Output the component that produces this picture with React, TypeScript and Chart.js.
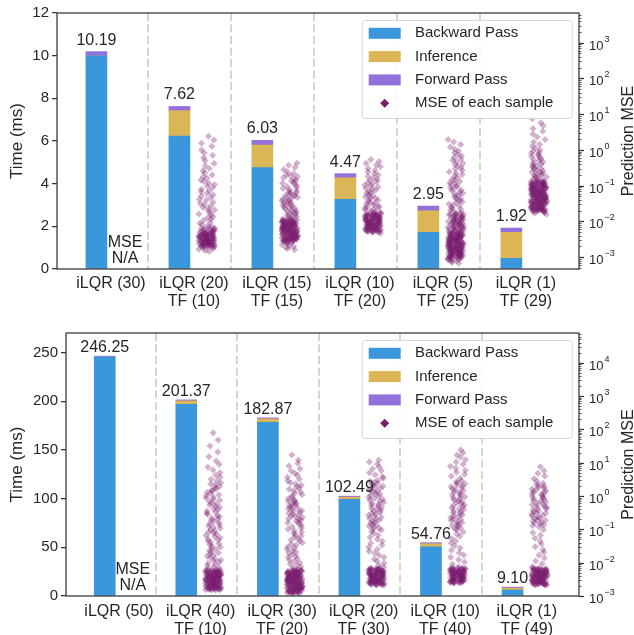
import React, { useEffect, useRef } from 'react';
import { Chart, registerables } from 'chart.js';

Chart.register(...registerables);

const FONT = '"Liberation Sans", Arial, "DejaVu Sans", sans-serif';
const TEXT = '#262626';
const BLUE = '#3a97dc';
const YELLOW = '#dbb656';
const PURPLE = '#9370db';
const MSE_RGB = '122,30,110';

// ---------------- top panel data ----------------
const TOP_LABELS = [['iLQR (30)'], ['iLQR (20)', 'TF (10)'], ['iLQR (15)', 'TF (15)'], ['iLQR (10)', 'TF (20)'], ['iLQR (5)', 'TF (25)'], ['iLQR (1)', 'TF (29)']];
const TOP_BACKWARD = [9.99, 6.23, 4.75, 3.27, 1.72, 0.5];
const TOP_INFERENCE = [0, 1.19, 1.06, 1.01, 1.01, 1.22];
const TOP_FORWARD = [0.2, 0.2, 0.22, 0.19, 0.22, 0.2];
const TOP_TOTALS = ['10.19', '7.62', '6.03', '4.47', '2.95', '1.92'];

// log10 of per-sample prediction MSE
const TOP_MSE_TF10 = [
  -2.84, -2.81, -2.78, -2.76, -2.74,
  -2.72, -2.71, -2.7, -2.7, -2.69, -2.69, -2.68, -2.68, -2.67, -2.67, -2.66, -2.66, -2.65, -2.65, -2.64, -2.64, -2.63, -2.63, -2.62, -2.62, -2.61, -2.61, -2.6, -2.6, -2.59, -2.59, -2.58, -2.58, -2.57, -2.57, -2.56, -2.56, -2.55, -2.55, -2.54, -2.54, -2.53, -2.53, -2.52, -2.52, -2.51, -2.51, -2.5, -2.5, -2.49, -2.49, -2.48, -2.48, -2.47, -2.47, -2.46, -2.46, -2.45, -2.45, -2.44, -2.44, -2.43, -2.43, -2.42, -2.42, -2.41, -2.41, -2.4, -2.4, -2.39, -2.39, -2.38, -2.38, -2.37, -2.37, -2.36, -2.36, -2.35, -2.35, -2.34, -2.34, -2.33, -2.33, -2.32, -2.32, -2.31, -2.3, -2.29, -2.28, -2.27, -2.26, -2.25, -2.24, -2.23, -2.22, -2.21, -2.2, -2.19, -2.17, -2.15,
  -2.12, -2.09, -2.05, -2.02, -1.97, -1.94, -1.9, -1.87, -1.83, -1.79, -1.76, -1.71, -1.68, -1.64, -1.61, -1.57, -1.53, -1.5, -1.46, -1.41, -1.38, -1.34, -1.29, -1.26, -1.22, -1.17, -1.14, -1.1, -1.05, -1.01, -0.97, -0.93, -0.88, -0.84, -0.79, -0.75, -0.7, -0.64, -0.58, -0.52, -0.45, -0.38, -0.3, -0.22, -0.15, -0.08, 0.0, 0.1, 0.19, 0.28, 0.38,
];
const TOP_MSE_TF15 = [
  -2.79, -2.76, -2.73, -2.7, -2.67, -2.65,
  -2.62, -2.6, -2.58, -2.57, -2.56, -2.55, -2.55, -2.54, -2.54, -2.53, -2.53, -2.52, -2.52, -2.51, -2.51, -2.5, -2.5, -2.49, -2.49, -2.48, -2.48, -2.47, -2.47, -2.46, -2.46, -2.45, -2.45, -2.44, -2.44, -2.43, -2.43, -2.42, -2.42, -2.41, -2.41, -2.4, -2.4, -2.39, -2.39, -2.38, -2.38, -2.37, -2.37, -2.36, -2.36, -2.35, -2.35, -2.34, -2.34, -2.33, -2.33, -2.32, -2.32, -2.31, -2.31, -2.3, -2.3, -2.29, -2.29, -2.28, -2.28, -2.27, -2.27, -2.26, -2.26, -2.25, -2.25, -2.24, -2.24, -2.23, -2.23, -2.22, -2.22, -2.21, -2.21, -2.2, -2.2, -2.19, -2.19, -2.18, -2.18, -2.17, -2.17, -2.16, -2.16, -2.15, -2.15, -2.14, -2.14, -2.13, -2.13, -2.12, -2.12, -2.11, -2.11, -2.1, -2.1, -2.09, -2.09, -2.08, -2.08, -2.07, -2.07, -2.06, -2.06, -2.05, -2.05, -2.04, -2.04, -2.03, -2.03, -2.02, -2.02, -2.01, -2.01, -2.0, -2.0, -1.99, -1.99, -1.98, -1.98, -1.97, -1.97, -1.96, -1.96, -1.95, -1.95, -1.93, -1.91, -1.89, -1.87, -1.85, -1.83,
  -1.8, -1.79, -1.77, -1.74, -1.72, -1.71, -1.68, -1.65, -1.64, -1.62, -1.59, -1.57, -1.56, -1.53, -1.5, -1.49, -1.47, -1.44, -1.42, -1.41, -1.38, -1.35, -1.34, -1.32, -1.29, -1.27, -1.26, -1.23, -1.2, -1.19, -1.17, -1.14, -1.11, -1.08, -1.05, -1.02, -0.99, -0.95, -0.93, -0.9, -0.87, -0.84, -0.81, -0.78, -0.74, -0.72, -0.7, -0.66, -0.61, -0.55, -0.49, -0.43, -0.37,
];
const TOP_MSE_TF20 = [
  -2.33, -2.31, -2.3, -2.29,
  -2.28, -2.28, -2.27, -2.27, -2.26, -2.26, -2.25, -2.25, -2.24, -2.24, -2.23, -2.23, -2.22, -2.22, -2.21, -2.21, -2.2, -2.2, -2.19, -2.19, -2.18, -2.18, -2.17, -2.17, -2.16, -2.16, -2.15, -2.15, -2.14, -2.14, -2.13, -2.13, -2.12, -2.12, -2.11, -2.11, -2.1, -2.1, -2.09, -2.09, -2.08, -2.08, -2.07, -2.07, -2.06, -2.06, -2.05, -2.05, -2.04, -2.04, -2.03, -2.03, -2.02, -2.02, -2.01, -2.01, -2.0, -2.0, -1.99, -1.99, -1.98, -1.98, -1.97, -1.97, -1.96, -1.96, -1.95, -1.95, -1.94, -1.94, -1.93, -1.93, -1.92, -1.92, -1.91, -1.91, -1.9, -1.9, -1.89, -1.89, -1.88, -1.88, -1.87, -1.87, -1.86, -1.86, -1.85, -1.85, -1.84, -1.84, -1.83, -1.83, -1.82, -1.82, -1.81, -1.81, -1.8, -1.8, -1.79, -1.79, -1.78, -1.78,
  -1.76, -1.74, -1.72, -1.7, -1.68, -1.66, -1.63, -1.61, -1.59, -1.57, -1.54, -1.52, -1.49, -1.47, -1.44, -1.41, -1.39, -1.36, -1.33, -1.31, -1.28, -1.25, -1.22, -1.19, -1.16, -1.13, -1.1, -1.07, -1.04, -1.01, -0.98, -0.95, -0.92, -0.89, -0.85, -0.82, -0.78, -0.74, -0.7, -0.66, -0.61, -0.57, -0.52, -0.47, -0.42, -0.37, -0.32, -0.27,
];
const TOP_MSE_TF25 = [
  -3.17, -3.14, -3.12, -3.1,
  -3.08, -3.07, -3.06, -3.05, -3.04, -3.03, -3.02, -3.01,
  -3.0, -3.0, -2.99, -2.99, -2.98, -2.98, -2.97, -2.97, -2.96, -2.96, -2.95, -2.95, -2.94, -2.94, -2.93, -2.93, -2.92, -2.92, -2.91, -2.91, -2.9, -2.9, -2.89, -2.89, -2.88, -2.88, -2.87, -2.87, -2.86, -2.86, -2.85, -2.85, -2.84, -2.84, -2.83, -2.83, -2.82, -2.82, -2.81, -2.81, -2.8, -2.8, -2.79, -2.79, -2.78, -2.78, -2.77, -2.77, -2.76, -2.76, -2.75, -2.75, -2.74, -2.74, -2.73, -2.73, -2.72, -2.72, -2.71, -2.71, -2.7, -2.7, -2.69, -2.69, -2.68, -2.68, -2.67, -2.67, -2.66, -2.66, -2.65, -2.65, -2.64, -2.64, -2.63, -2.63, -2.62, -2.62, -2.61, -2.61, -2.6, -2.6, -2.59, -2.59, -2.58, -2.58, -2.57, -2.57, -2.56, -2.56, -2.55, -2.55, -2.54, -2.54, -2.53, -2.53, -2.52, -2.52, -2.51, -2.51, -2.5, -2.5, -2.49, -2.49, -2.48, -2.48, -2.47, -2.47, -2.46, -2.46, -2.45, -2.45, -2.44, -2.44, -2.43, -2.43, -2.42, -2.42, -2.41, -2.41, -2.4, -2.4, -2.39, -2.39, -2.38, -2.38, -2.37, -2.37, -2.36, -2.36, -2.35, -2.35, -2.34, -2.34, -2.33, -2.33,
  -2.32, -2.31, -2.3, -2.29, -2.28, -2.27, -2.26, -2.25, -2.24, -2.23, -2.22, -2.21, -2.2, -2.19, -2.18, -2.17, -2.16, -2.15, -2.14, -2.13, -2.12, -2.11, -2.1, -2.09, -2.08, -2.07, -2.06, -2.05, -2.04, -2.03, -2.02, -2.01, -2.0, -1.99, -1.98, -1.97, -1.96, -1.95, -1.94, -1.93, -1.92, -1.91, -1.9, -1.89, -1.88, -1.87, -1.86, -1.85, -1.84, -1.83, -1.82, -1.81, -1.8, -1.79, -1.78, -1.77,
  -1.75, -1.72, -1.69, -1.66, -1.63, -1.6, -1.57, -1.54, -1.51, -1.48, -1.45, -1.42, -1.39, -1.36, -1.33, -1.3, -1.27, -1.24, -1.21, -1.18, -1.15, -1.12, -1.09, -1.06, -1.03, -1.0, -0.97, -0.94, -0.91, -0.88, -0.85, -0.81, -0.77, -0.73, -0.69, -0.65, -0.61, -0.57, -0.53, -0.49, -0.45, -0.41, -0.37, -0.33, -0.29, -0.25, -0.21, -0.17, -0.13, -0.08, -0.03, 0.02, 0.08, 0.15, 0.22, 0.29,
];
const TOP_MSE_TF29 = [
  -1.8, -1.77, -1.75,
  -1.72, -1.72, -1.71, -1.71, -1.7, -1.7, -1.69, -1.69, -1.68, -1.68, -1.67, -1.67, -1.66, -1.66, -1.65, -1.65, -1.64, -1.64, -1.63, -1.63, -1.62, -1.62, -1.61, -1.61, -1.6, -1.6, -1.59, -1.59, -1.58, -1.58, -1.57, -1.57, -1.56, -1.56, -1.55, -1.55, -1.54, -1.54, -1.53, -1.53, -1.52, -1.52, -1.51, -1.51, -1.5, -1.5, -1.49, -1.49, -1.48, -1.48, -1.47, -1.47, -1.46, -1.46, -1.45, -1.45, -1.44, -1.44, -1.43, -1.43, -1.42, -1.42, -1.41, -1.41, -1.4, -1.4, -1.39, -1.39, -1.38, -1.38, -1.37, -1.37, -1.36, -1.36, -1.35, -1.35, -1.34, -1.34, -1.33, -1.33, -1.32, -1.32, -1.31, -1.31, -1.3, -1.3, -1.29, -1.29, -1.28, -1.28, -1.27, -1.27, -1.26, -1.26, -1.25, -1.25, -1.24, -1.24, -1.23, -1.23, -1.22, -1.22, -1.21, -1.21, -1.2, -1.2, -1.19, -1.19, -1.18, -1.18, -1.17, -1.17, -1.16, -1.16, -1.15, -1.15, -1.14, -1.14, -1.13, -1.13, -1.12, -1.12, -1.11, -1.11, -1.1, -1.1, -1.09, -1.09, -1.08, -1.08, -1.07, -1.07, -1.06, -1.06, -1.05, -1.05, -1.04, -1.04, -1.03, -1.03, -1.02, -1.02, -1.01, -1.01, -1.0, -1.0, -0.99, -0.99, -0.98, -0.98, -0.97, -0.97, -0.96, -0.96, -0.95, -0.95, -0.94, -0.94, -0.93, -0.93, -0.92, -0.92, -0.91, -0.91, -0.9, -0.9, -0.89, -0.89, -0.88, -0.88,
  -0.86, -0.84, -0.82, -0.8, -0.78, -0.76, -0.74, -0.72, -0.7, -0.68, -0.66, -0.64, -0.62, -0.59, -0.57, -0.55, -0.52, -0.5, -0.47, -0.45, -0.42, -0.4, -0.37, -0.34, -0.31, -0.28, -0.25, -0.22, -0.19, -0.16, -0.13, -0.1, -0.07, -0.04, 0.0, 0.05, 0.1, 0.16, 0.22, 0.29, 0.36, 0.44, 0.52, 0.6, 0.68, 0.76, 0.87,
];
const TOP_MSE = [null, TOP_MSE_TF10, TOP_MSE_TF15, TOP_MSE_TF20, TOP_MSE_TF25, TOP_MSE_TF29];

// ---------------- bottom panel data ----------------
const BOTTOM_LABELS = [['iLQR (50)'], ['iLQR (40)', 'TF (10)'], ['iLQR (30)', 'TF (20)'], ['iLQR (20)', 'TF (30)'], ['iLQR (10)', 'TF (40)'], ['iLQR (1)', 'TF (49)']];
const BOTTOM_BACKWARD = [245.3, 196.8, 178.2, 99.2, 50.6, 6.2];
const BOTTOM_INFERENCE = [0, 3.5, 3.67, 2.29, 3.1, 1.9];
const BOTTOM_FORWARD = [0.95, 1.07, 1.0, 1.0, 1.06, 1.0];
const BOTTOM_TOTALS = ['246.25', '201.37', '182.87', '102.49', '54.76', '9.10'];

const BOT_MSE_TF10 = [
  -2.82, -2.82, -2.81, -2.81, -2.8, -2.8, -2.79, -2.79, -2.78, -2.78, -2.77, -2.77, -2.76, -2.76, -2.75, -2.75, -2.74, -2.74, -2.73, -2.73, -2.72, -2.72, -2.71, -2.71, -2.7, -2.7, -2.69, -2.69, -2.68, -2.68, -2.67, -2.67, -2.66, -2.66, -2.65, -2.65, -2.64, -2.64, -2.63, -2.63, -2.62, -2.62, -2.61, -2.61, -2.6, -2.6, -2.59, -2.59, -2.58, -2.58, -2.57, -2.57, -2.56, -2.56, -2.55, -2.55, -2.54, -2.54, -2.53, -2.53, -2.52, -2.52, -2.51, -2.51, -2.5, -2.5, -2.49, -2.49, -2.48, -2.48, -2.47, -2.47, -2.46, -2.46, -2.45, -2.45, -2.44, -2.44, -2.43, -2.43, -2.42, -2.42, -2.41, -2.41, -2.4, -2.4, -2.39, -2.39, -2.38, -2.38, -2.37, -2.37, -2.36, -2.36, -2.35, -2.35, -2.34, -2.34, -2.33, -2.33, -2.32, -2.32, -2.31, -2.31, -2.3, -2.3, -2.29, -2.29, -2.28, -2.28, -2.27, -2.27, -2.26, -2.26, -2.25, -2.25, -2.24, -2.24, -2.23, -2.23, -2.22, -2.22,
  -2.2, -2.16, -2.13, -2.09, -2.06, -2.02, -1.99, -1.95, -1.92, -1.88, -1.85, -1.81, -1.78, -1.74, -1.71, -1.67, -1.64, -1.6, -1.57, -1.53, -1.5, -1.46, -1.43, -1.39, -1.36, -1.32, -1.29, -1.25, -1.22, -1.18, -1.15, -1.11, -1.08, -1.04, -1.01, -0.97, -0.94, -0.9, -0.87, -0.83, -0.8, -0.76, -0.73, -0.69, -0.66, -0.62, -0.59, -0.55, -0.52, -0.48, -0.45, -0.41, -0.38, -0.34, -0.31, -0.27, -0.24, -0.2, -0.17, -0.13, -0.1, -0.06, -0.03, 0.01, 0.04, 0.08, 0.11, 0.15, 0.18, 0.22, 0.25, 0.29, 0.32, 0.36, 0.4, 0.45, 0.5, 0.56, 0.62, 0.7, 0.78,
  0.86, 0.95, 1.05, 1.18, 1.32, 1.5, 1.68, 1.9,
];
const BOT_MSE_TF20 = [
  -2.92, -2.92, -2.91, -2.91, -2.9, -2.9, -2.89, -2.89, -2.88, -2.88, -2.87, -2.87, -2.86, -2.86, -2.85, -2.85, -2.84, -2.84, -2.83, -2.83, -2.82, -2.82, -2.81, -2.81, -2.8, -2.8, -2.79, -2.79, -2.78, -2.78, -2.77, -2.77, -2.76, -2.76, -2.75, -2.75, -2.74, -2.74, -2.73, -2.73, -2.72, -2.72, -2.71, -2.71, -2.7, -2.7, -2.69, -2.69, -2.68, -2.68, -2.67, -2.67, -2.66, -2.66, -2.65, -2.65, -2.64, -2.64, -2.63, -2.63, -2.62, -2.62, -2.61, -2.61, -2.6, -2.6, -2.59, -2.59, -2.58, -2.58, -2.57, -2.57, -2.56, -2.56, -2.55, -2.55, -2.54, -2.54, -2.53, -2.53, -2.52, -2.52, -2.51, -2.51, -2.5, -2.5, -2.49, -2.49, -2.48, -2.48, -2.47, -2.47, -2.46, -2.46, -2.45, -2.45, -2.44, -2.44, -2.43, -2.43, -2.42, -2.42, -2.41, -2.41, -2.4, -2.4, -2.39, -2.39, -2.38, -2.38, -2.37, -2.37, -2.36, -2.36, -2.35, -2.35, -2.34, -2.34, -2.33, -2.33, -2.32, -2.32, -2.31, -2.31, -2.3, -2.3, -2.29, -2.29, -2.28, -2.28, -2.27, -2.27, -2.26, -2.26, -2.25, -2.25, -2.24, -2.24, -2.23, -2.23, -2.22, -2.22,
  -2.2, -2.16, -2.12, -2.08, -2.04, -2.0, -1.96, -1.92, -1.88, -1.84, -1.8, -1.76, -1.72, -1.68, -1.64, -1.6, -1.56, -1.52, -1.48, -1.44, -1.4, -1.36, -1.32, -1.28, -1.24, -1.2, -1.16, -1.12, -1.08, -1.04, -1.0, -0.96, -0.92, -0.88, -0.84, -0.8, -0.78, -0.76, -0.72, -0.7, -0.68, -0.64, -0.62, -0.6, -0.56, -0.54, -0.52, -0.48, -0.46, -0.44, -0.4, -0.38, -0.36, -0.32, -0.3, -0.28, -0.24, -0.22, -0.2, -0.16, -0.14, -0.12, -0.08, -0.04, 0.0, 0.04, 0.08, 0.12, 0.16, 0.2, 0.24, 0.28, 0.32, 0.36, 0.4, 0.45, 0.5, 0.56, 0.62, 0.68, 0.75, 0.82, 0.9, 0.98, 1.08, 1.23,
];
const BOT_MSE_TF30 = [
  -2.67, -2.67, -2.66, -2.66, -2.65, -2.65, -2.64, -2.64, -2.63, -2.63, -2.62, -2.62, -2.61, -2.61, -2.6, -2.6, -2.59, -2.59, -2.58, -2.58, -2.57, -2.57, -2.56, -2.56, -2.55, -2.55, -2.54, -2.54, -2.53, -2.53, -2.52, -2.52, -2.51, -2.51, -2.5, -2.5, -2.49, -2.49, -2.48, -2.48, -2.47, -2.47, -2.46, -2.46, -2.45, -2.45, -2.44, -2.44, -2.43, -2.43, -2.42, -2.42, -2.41, -2.41, -2.4, -2.4, -2.39, -2.39, -2.38, -2.38, -2.37, -2.37, -2.36, -2.36, -2.35, -2.35, -2.34, -2.34, -2.33, -2.33, -2.32, -2.32, -2.31, -2.31, -2.3, -2.3, -2.29, -2.29, -2.28, -2.28, -2.27, -2.27, -2.26, -2.26, -2.25, -2.25, -2.24, -2.24, -2.23, -2.23, -2.22, -2.22, -2.21, -2.21, -2.2, -2.2, -2.19, -2.19, -2.18, -2.18, -2.17, -2.17,
  -2.14, -2.08, -2.02, -1.96, -1.9, -1.84, -1.78, -1.72, -1.66, -1.6, -1.54, -1.48, -1.42, -1.36, -1.3, -1.24, -1.18, -1.12, -1.07, -1.02,
  -1.0, -0.97, -0.94, -0.91, -0.88, -0.85, -0.82, -0.79, -0.76, -0.73, -0.7, -0.67, -0.64, -0.61, -0.58, -0.55, -0.52, -0.49, -0.46, -0.43, -0.4, -0.37, -0.34, -0.31, -0.28, -0.25, -0.22, -0.19, -0.16, -0.13, -0.1, -0.07, -0.04, -0.01, 0.02, 0.05, 0.08, 0.11, 0.14, 0.17, 0.2, 0.23, 0.26, 0.29, 0.32, 0.35, 0.38, 0.41, 0.44, 0.47,
  0.53, 0.58, 0.64, 0.7, 0.76, 0.82, 0.88, 0.95, 1.02, 1.08,
];
const BOT_MSE_TF40 = [
  -2.61, -2.61, -2.6, -2.6, -2.59, -2.59, -2.58, -2.58, -2.57, -2.57, -2.56, -2.56, -2.55, -2.55, -2.54, -2.54, -2.53, -2.53, -2.52, -2.52, -2.51, -2.51, -2.5, -2.5, -2.49, -2.49, -2.48, -2.48, -2.47, -2.47, -2.46, -2.46, -2.45, -2.45, -2.44, -2.44, -2.43, -2.43, -2.42, -2.42, -2.41, -2.41, -2.4, -2.4, -2.39, -2.39, -2.38, -2.38, -2.37, -2.37, -2.36, -2.36, -2.35, -2.35, -2.34, -2.34, -2.33, -2.33, -2.32, -2.32, -2.31, -2.31, -2.3, -2.3, -2.29, -2.29, -2.28, -2.28, -2.27, -2.27, -2.26, -2.26, -2.25, -2.25, -2.24, -2.24, -2.23, -2.23, -2.22, -2.22, -2.21, -2.21, -2.2, -2.2, -2.19, -2.19, -2.18, -2.18, -2.17, -2.17, -2.16, -2.16,
  -2.12, -2.05, -1.98, -1.91, -1.84, -1.77, -1.7, -1.63, -1.56, -1.49, -1.42, -1.35, -1.28, -1.21, -1.14, -1.07,
  -1.01, -0.98, -0.95, -0.92, -0.89, -0.86, -0.83, -0.8, -0.77, -0.74, -0.71, -0.68, -0.65, -0.62, -0.59, -0.56, -0.53, -0.5, -0.47, -0.44, -0.41, -0.38, -0.35, -0.32, -0.29, -0.26, -0.23, -0.2, -0.17, -0.14, -0.11, -0.08, -0.05, -0.02, 0.01, 0.04, 0.07, 0.1, 0.13, 0.16, 0.19, 0.22, 0.25, 0.28, 0.31, 0.34, 0.37, 0.4, 0.43, 0.46,
  0.53, 0.59, 0.65, 0.71, 0.77, 0.83, 0.89, 0.95, 1.02, 1.09, 1.16, 1.23, 1.3, 1.38,
];
const BOT_MSE_TF49 = [
  -2.67, -2.67, -2.66, -2.66, -2.65, -2.65, -2.64, -2.64, -2.63, -2.63, -2.62, -2.62, -2.61, -2.61, -2.6, -2.6, -2.59, -2.59, -2.58, -2.58, -2.57, -2.57, -2.56, -2.56, -2.55, -2.55, -2.54, -2.54, -2.53, -2.53, -2.52, -2.52, -2.51, -2.51, -2.5, -2.5, -2.49, -2.49, -2.48, -2.48, -2.47, -2.47, -2.46, -2.46, -2.45, -2.45, -2.44, -2.44, -2.43, -2.43, -2.42, -2.42, -2.41, -2.41, -2.4, -2.4, -2.39, -2.39, -2.38, -2.38, -2.37, -2.37, -2.36, -2.36, -2.35, -2.35, -2.34, -2.34, -2.33, -2.33, -2.32, -2.32, -2.31, -2.31, -2.3, -2.3, -2.29, -2.29, -2.28, -2.28, -2.27, -2.27, -2.26, -2.26, -2.25, -2.25, -2.24, -2.24, -2.23, -2.23, -2.22, -2.22, -2.21, -2.21, -2.2, -2.2, -2.19, -2.19, -2.18, -2.18, -2.17, -2.17,
  -2.12, -2.03, -1.95, -1.86, -1.78, -1.69, -1.61, -1.52, -1.44, -1.35, -1.27, -1.18, -1.1, -1.01,
  -0.92, -0.89, -0.87, -0.84, -0.81, -0.79, -0.76, -0.73, -0.71, -0.68, -0.66, -0.63, -0.6, -0.58, -0.55, -0.52, -0.5, -0.47, -0.45, -0.42, -0.39, -0.37, -0.34, -0.31, -0.29, -0.26, -0.24, -0.21, -0.18, -0.16, -0.13, -0.1, -0.08, -0.05, -0.03, 0.0, 0.03, 0.05, 0.08, 0.11, 0.13, 0.16, 0.18, 0.21, 0.24, 0.26, 0.29, 0.32, 0.35, 0.38,
  0.45, 0.52, 0.6, 0.68, 0.76, 0.88,
];
const BOTTOM_MSE = [null, BOT_MSE_TF10, BOT_MSE_TF20, BOT_MSE_TF30, BOT_MSE_TF40, BOT_MSE_TF49];

const LEGEND_ITEMS = ['Backward Pass', 'Inference', 'Forward Pass', 'MSE of each sample'];

// layout constants (in category units)
const X_MIN = -0.65;
const X_MAX = 5.64;
const BAR_OFFSET = -0.175;
const SCATTER_OFFSET = 0.155;
const JITTER_WIDTH = 0.19;
const SEP_OFFSET = 0.45;

type Panel = {
  labels: string[][];
  backward: number[];
  inference: number[];
  forward: number[];
  totals: string[];
  mse: (number[] | null)[];
  yMax: number;
  yStep: number;
  y2MinExp: number;
  y2MaxExp: number;
  width: number;
  height: number;
  leftWidth: number;
  padTop: number;
  xHeight: number;
  xPad: number;
  labelGap: number;
};

const TOP_PANEL: Panel = {
  labels: TOP_LABELS, backward: TOP_BACKWARD, inference: TOP_INFERENCE, forward: TOP_FORWARD,
  totals: TOP_TOTALS, mse: TOP_MSE, yMax: 12, yStep: 2, y2MinExp: -3.33, y2MaxExp: 3.83,
  width: 634, height: 317, leftWidth: 57, padTop: 13, xHeight: 48, xPad: 5, labelGap: 7,
};
const BOTTOM_PANEL: Panel = {
  labels: BOTTOM_LABELS, backward: BOTTOM_BACKWARD, inference: BOTTOM_INFERENCE, forward: BOTTOM_FORWARD,
  totals: BOTTOM_TOTALS, mse: BOTTOM_MSE, yMax: 270, yStep: 50, y2MinExp: -3, y2MaxExp: 4.89,
  width: 634, height: 318, leftWidth: 66, padTop: 16, xHeight: 39, xPad: 6, labelGap: 4,
};

// deterministic horizontal jitter for the strip plot (layout only, not data)
function jitter(k: number, i: number) {
  const s = Math.sin((k + 1) * 12.9898 + (i + 1) * 78.233) * 43758.5453;
  const h = s - Math.floor(s);
  const g = ((k + 1) * 0.6180339887 + 0.45 * h) % 1;
  return g - 0.5;
}

function makeDecor(p: Panel) {
  return {
    id: 'panelDecor',
    beforeDatasetsDraw(chart: any) {
      const { ctx, chartArea: ca, scales } = chart;
      ctx.save();
      ctx.strokeStyle = '#d5d5d5';
      ctx.lineWidth = 2;
      ctx.setLineDash([8, 3.5]);
      for (let i = 0; i < p.labels.length - 1; i++) {
        const px = Math.round(scales.x.getPixelForValue(i + SEP_OFFSET));
        ctx.beginPath();
        ctx.moveTo(px, ca.top);
        ctx.lineTo(px, ca.bottom);
        ctx.stroke();
      }
      ctx.restore();
    },
    afterDatasetsDraw(chart: any) {
      const { ctx, chartArea: ca, scales } = chart;
      const xs = scales.x;
      const ys = scales.y;
      const y2 = scales.y2;
      ctx.save();
      // frame
      ctx.strokeStyle = '#333333';
      ctx.lineWidth = 1.25;
      ctx.strokeRect(ca.left, ca.top, ca.right - ca.left, ca.bottom - ca.top);

      // totals above bars
      ctx.fillStyle = TEXT;
      ctx.font = `16px ${FONT}`;
      ctx.textAlign = 'center';
      ctx.textBaseline = 'alphabetic';
      p.totals.forEach((t, i) => {
        const total = p.backward[i] + p.inference[i] + p.forward[i];
        const px = xs.getPixelForValue(i + BAR_OFFSET);
        const py = ys.getPixelForValue(total) - p.labelGap;
        ctx.fillText(t, px, py);
      });

      // MSE N/A
      ctx.font = `16px ${FONT}`;
      ctx.textBaseline = 'middle';
      p.mse.forEach((m, i) => {
        if (m) return;
        const px = xs.getPixelForValue(i + 0.17);
        ctx.fillText('MSE', px, ca.bottom - 26);
        ctx.fillText('N/A', px, ca.bottom - 10);
      });

      // right log axis
      ctx.strokeStyle = '#333333';
      for (let n = Math.floor(p.y2MinExp); n <= Math.ceil(p.y2MaxExp); n++) {
        for (let k = 1; k <= 9; k++) {
          const v = k * Math.pow(10, n);
          const lv = Math.log10(v);
          if (lv < p.y2MinExp - 1e-9 || lv > p.y2MaxExp + 1e-9) continue;
          const py = Math.round(y2.getPixelForValue(v)) + 0.5;
          ctx.lineWidth = k === 1 ? 1.25 : 0.8;
          ctx.beginPath();
          ctx.moveTo(ca.right, py);
          ctx.lineTo(ca.right + (k === 1 ? 5 : 2.5), py);
          ctx.stroke();
          if (k === 1) {
            ctx.textAlign = 'left';
            ctx.textBaseline = 'middle';
            ctx.font = `13px ${FONT}`;
            const bx = ca.right + 10;
            ctx.fillText('10', bx, py + 3);
            const w = ctx.measureText('10').width;
            ctx.font = `9px ${FONT}`;
            const e = n < 0 ? '\u2212' + String(-n) : String(n);
            ctx.fillText(e, bx + w + 1, py - 4);
          }
        }
      }
      // right axis title
      ctx.save();
      ctx.translate(629, (ca.top + ca.bottom) / 2);
      ctx.rotate(-Math.PI / 2);
      ctx.textAlign = 'center';
      ctx.textBaseline = 'middle';
      ctx.font = `16px ${FONT}`;
      ctx.fillStyle = TEXT;
      ctx.fillText('Prediction MSE', 0, 0);
      ctx.restore();

      // legend
      const lx = ca.right - 217.3;
      const ly = ca.top + 7;
      const lw = 210;
      const lh = 98;
      ctx.fillStyle = 'rgba(255,255,255,0.85)';
      ctx.strokeStyle = '#d8d8d8';
      ctx.lineWidth = 1;
      ctx.beginPath();
      (ctx as any).roundRect(lx + 0.5, ly + 0.5, lw, lh, 3);
      ctx.fill();
      ctx.stroke();
      const swatch = [BLUE, YELLOW, PURPLE];
      LEGEND_ITEMS.forEach((label, r) => {
        const cy = ly + 13.3 + r * 23.3;
        if (r < 3) {
          ctx.fillStyle = swatch[r];
          ctx.fillRect(lx + 7, cy - 5.5, 32, 11);
        } else {
          ctx.fillStyle = `rgb(${MSE_RGB})`;
          ctx.beginPath();
          ctx.moveTo(lx + 23, cy - 4.5);
          ctx.lineTo(lx + 27.5, cy);
          ctx.lineTo(lx + 23, cy + 4.5);
          ctx.lineTo(lx + 18.5, cy);
          ctx.closePath();
          ctx.fill();
        }
        ctx.fillStyle = TEXT;
        ctx.font = `15px ${FONT}`;
        ctx.textAlign = 'left';
        ctx.textBaseline = 'middle';
        ctx.fillText(label, lx + 53.3, cy);
      });
      ctx.restore();
    },
  };
}

function PanelChart({ p, top }: { p: Panel; top: number }) {
  const ref = useRef<HTMLCanvasElement | null>(null);
  useEffect(() => {
    if (!ref.current) return;
    const scatter: { x: number; y: number }[] = [];
    p.mse.forEach((vals, i) => {
      if (!vals) return;
      vals.forEach((lv, k) => {
        scatter.push({ x: i + SCATTER_OFFSET + jitter(k, i) * JITTER_WIDTH, y: Math.pow(10, lv) });
      });
    });
    const barData = (arr: number[]) => arr.map((v, i) => ({ x: i + BAR_OFFSET, y: v }));
    const chart = new Chart(ref.current, {
      type: 'bar',
      data: {
        datasets: [
          {
            type: 'scatter',
            label: 'MSE of each sample',
            data: scatter,
            xAxisID: 'x',
            yAxisID: 'y2',
            backgroundColor: `rgba(${MSE_RGB},0.34)`,
            borderWidth: 0,
            pointStyle: 'rectRot',
            pointRadius: 3.5,
            pointHoverRadius: 3.5,
          } as any,
          { label: 'Backward Pass', data: barData(p.backward), backgroundColor: BLUE, stack: 's', yAxisID: 'y', barThickness: 21 } as any,
          { label: 'Inference', data: barData(p.inference), backgroundColor: YELLOW, stack: 's', yAxisID: 'y', barThickness: 21 } as any,
          { label: 'Forward Pass', data: barData(p.forward), backgroundColor: PURPLE, stack: 's', yAxisID: 'y', barThickness: 21 } as any,
        ],
      },
      options: {
        responsive: false,
        animation: false,
        devicePixelRatio: 1,
        events: [],
        layout: { padding: { left: 0, right: 55, top: p.padTop, bottom: 0 } },
        plugins: { legend: { display: false }, tooltip: { enabled: false } },
        scales: {
          x: {
            type: 'linear',
            min: X_MIN,
            max: X_MAX,
            offset: false,
            stacked: true,
            grid: { display: false, drawTicks: false, offset: false },
            border: { display: false },
            afterBuildTicks: (s: any) => {
              s.ticks = p.labels.map((_, i) => ({ value: i }));
            },
            afterFit: (s: any) => {
              s.height = p.xHeight;
            },
            ticks: {
              autoSkip: false,
              maxRotation: 0,
              padding: p.xPad,
              color: TEXT,
              font: { family: FONT, size: 16, lineHeight: 1.15 },
              callback: (v: any) => p.labels[Math.round(Number(v))] ?? '',
            },
          },
          y: {
            type: 'linear',
            stacked: true,
            min: 0,
            max: p.yMax,
            afterBuildTicks: (s: any) => {
              s.ticks = s.ticks.filter((t: any) => Math.abs(t.value / p.yStep - Math.round(t.value / p.yStep)) < 1e-6);
            },
            afterFit: (s: any) => {
              s.width = p.leftWidth;
            },
            grid: { display: true, drawOnChartArea: false, drawTicks: true, tickLength: 5, color: '#333333', lineWidth: 1.25 },
            border: { display: false },
            ticks: { stepSize: p.yStep, padding: 3, color: TEXT, font: { family: FONT, size: 15 } },
            title: { display: true, text: 'Time (ms)', color: TEXT, font: { family: FONT, size: 17 }, padding: { top: 7, bottom: 0 } },
          },
          y2: {
            type: 'logarithmic',
            display: false,
            position: 'right',
            min: Math.pow(10, p.y2MinExp),
            max: Math.pow(10, p.y2MaxExp),
          },
        },
      } as any,
      plugins: [makeDecor(p)],
    });
    return () => chart.destroy();
  }, [p]);
  return (
    <canvas
      ref={ref}
      width={p.width}
      height={p.height}
      style={{ position: 'absolute', left: 0, top, width: p.width, height: p.height, display: 'block' }}
    />
  );
}

export default function App() {
  return (
    <div style={{ position: 'fixed', left: 0, top: 0, width: 634, height: 635, background: '#ffffff', overflow: 'hidden' }}>
      <PanelChart p={TOP_PANEL} top={0} />
      <PanelChart p={BOTTOM_PANEL} top={317} />
    </div>
  );
}
